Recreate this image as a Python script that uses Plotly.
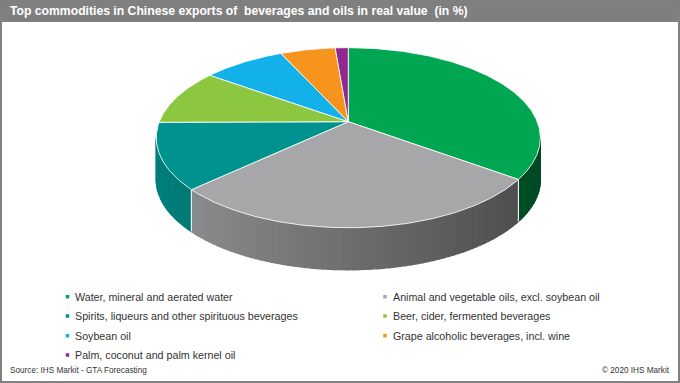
import numpy as np
import plotly.graph_objects as go

# ---------------- data ----------------
categories = [
    "Water, mineral and aerated water",
    "Animal and vegetable oils, excl. soybean oil",
    "Spirits, liqueurs and other spirituous beverages",
    "Beer, cider, fermented beverages",
    "Soybean oil",
    "Grape alcoholic beverages, incl. wine",
    "Palm, coconut and palm kernel oil",
]
values = [35.1, 27.9, 11.9, 10.1, 8.2, 5.5, 1.3]
colors = ["#00a651", "#a7a7a9", "#00928f", "#8dc63f", "#12b1ea", "#f7941d", "#92278f"]

title_text = "Top commodities in Chinese exports of  beverages and oils in real value  (in %)"
source_text = "Source: IHS Markit - GTA Forecasting"
copyright_text = "© 2020 IHS Markit"

# ---------------- geometry of the 3D pie ----------------
W, H = 680, 383
CX, CY = 348.3, 121.7      # apex of the pie (screen)
A, B, K = 189.0, 87.2, 0.1777  # half-width, half-height, perspective factor
DEPTH = 42
FONT = "Liberation Sans, Arial, sans-serif"
FONT_NARROW = "Liberation Sans Narrow, Arial Narrow, Liberation Sans, sans-serif"


def proj(phi_deg, dy=0.0):
    phi = np.radians(phi_deg)
    u, v = np.sin(phi), np.cos(phi)
    s = 1.0 / (1.0 + K * v)
    return CX + A * u * s, CY - B * v * s + dy


def hex_to_rgb(h):
    h = h.lstrip("#")
    return tuple(int(h[i:i + 2], 16) for i in (0, 2, 4))


def shade(hexcol, x):
    t = min(max((x - 156.0) / 384.0, 0.0), 1.0)
    f = 0.87 - 0.42 * t
    r, g, b = hex_to_rgb(hexcol)
    return "rgb(%d,%d,%d)" % (r * f, g * f, b * f)


total = float(sum(values))
bounds = np.concatenate([[0.0], np.cumsum(values) / total * 360.0])

fig = go.Figure()

# sides (front visible part only)
vis_lo = np.degrees(np.arccos(-K))
vis_hi = 360.0 - vis_lo
for i, col in enumerate(colors):
    s0, s1 = max(bounds[i], vis_lo), min(bounds[i + 1], vis_hi)
    if s1 <= s0:
        continue
    n = max(int(np.ceil((s1 - s0) / 1.5)), 1)
    edges = np.linspace(s0, s1, n + 1)
    for a0, a1 in zip(edges[:-1], edges[1:]):
        arc = np.linspace(a0, a1, 4)
        xt, yt = proj(arc)
        xb, yb = proj(arc[::-1], DEPTH)
        xs = np.concatenate([xt, xb, xt[:1]])
        ys = np.concatenate([yt, yb, yt[:1]])
        c = shade(col, float(np.mean(xt)))
        fig.add_trace(go.Scatter(
            x=xs, y=ys, fill="toself", fillcolor=c, mode="lines",
            line=dict(color=c, width=1.3), hoverinfo="skip", showlegend=False))

# white separators on the side at slice boundaries
for bnd in bounds[1:-1]:
    if vis_lo < bnd < vis_hi:
        x0, y0 = proj(bnd)
        x1, y1 = proj(bnd, DEPTH)
        fig.add_trace(go.Scatter(
            x=[x0, x1], y=[y0, y1], mode="lines",
            line=dict(color="rgba(255,255,255,0.9)", width=1.2),
            hoverinfo="skip", showlegend=False))

# top faces
for i, (cat, col) in enumerate(zip(categories, colors)):
    arc = np.linspace(bounds[i], bounds[i + 1], max(int((bounds[i + 1] - bounds[i]) * 2), 3))
    xa, ya = proj(arc)
    xs = np.concatenate([[CX], xa, [CX]])
    ys = np.concatenate([[CY], ya, [CY]])
    fig.add_trace(go.Scatter(
        x=xs, y=ys, fill="toself", fillcolor=col, mode="lines",
        line=dict(color="rgba(255,255,255,0.85)", width=1),
        name=cat, hoverinfo="name", showlegend=False))

# legend (two columns)
col_x = [67.5, 385]
row_y = [296.7, 316, 335.7, 355]
for i, (cat, col) in enumerate(zip(categories, colors)):
    lx = col_x[i % 2]
    ly = row_y[i // 2]
    fig.add_trace(go.Scatter(
        x=[lx], y=[ly], mode="markers",
        marker=dict(symbol="square", size=3.5, color=col, line=dict(width=0)),
        hoverinfo="skip", showlegend=False))
    fig.add_annotation(x=lx + 5.5, y=ly, xref="x", yref="y", text=cat,
                       showarrow=False, xanchor="left", yanchor="middle",
                       font=dict(family=FONT, size=10.7, color="#333333"))

# title, source, copyright
fig.add_annotation(x=8, y=11, xref="x", yref="y", text="<b>" + title_text + "</b>",
                   showarrow=False, xanchor="left", yanchor="middle",
                   font=dict(family=FONT_NARROW, size=12.2, color="white"))
fig.add_annotation(x=8, y=370, xref="x", yref="y", text=source_text,
                   showarrow=False, xanchor="left", yanchor="middle",
                   font=dict(family=FONT, size=8.2, color="#333333"))
fig.add_annotation(x=672, y=370, xref="x", yref="y", text=copyright_text,
                   showarrow=False, xanchor="right", yanchor="middle",
                   font=dict(family=FONT, size=8.2, color="#333333"))

fig.update_layout(
    width=W, height=H,
    margin=dict(l=0, r=0, t=0, b=0),
    paper_bgcolor="white", plot_bgcolor="white",
    xaxis=dict(range=[0, W], visible=False, fixedrange=True),
    yaxis=dict(range=[H, 0], visible=False, fixedrange=True),
    shapes=[
        dict(type="rect", xref="x", yref="y", x0=0, x1=W, y0=0, y1=22,
             fillcolor="#7f7f7f", line=dict(width=0), layer="below"),
        dict(type="rect", xref="x", yref="y", x0=1, x1=W - 1, y0=1, y1=H - 1,
             fillcolor="rgba(0,0,0,0)", line=dict(color="#808080", width=2)),
    ],
)

fig.write_html("out.html", config={"displayModeBar": False},
               post_script="document.body.style.margin='0';document.body.style.overflow='hidden';")
